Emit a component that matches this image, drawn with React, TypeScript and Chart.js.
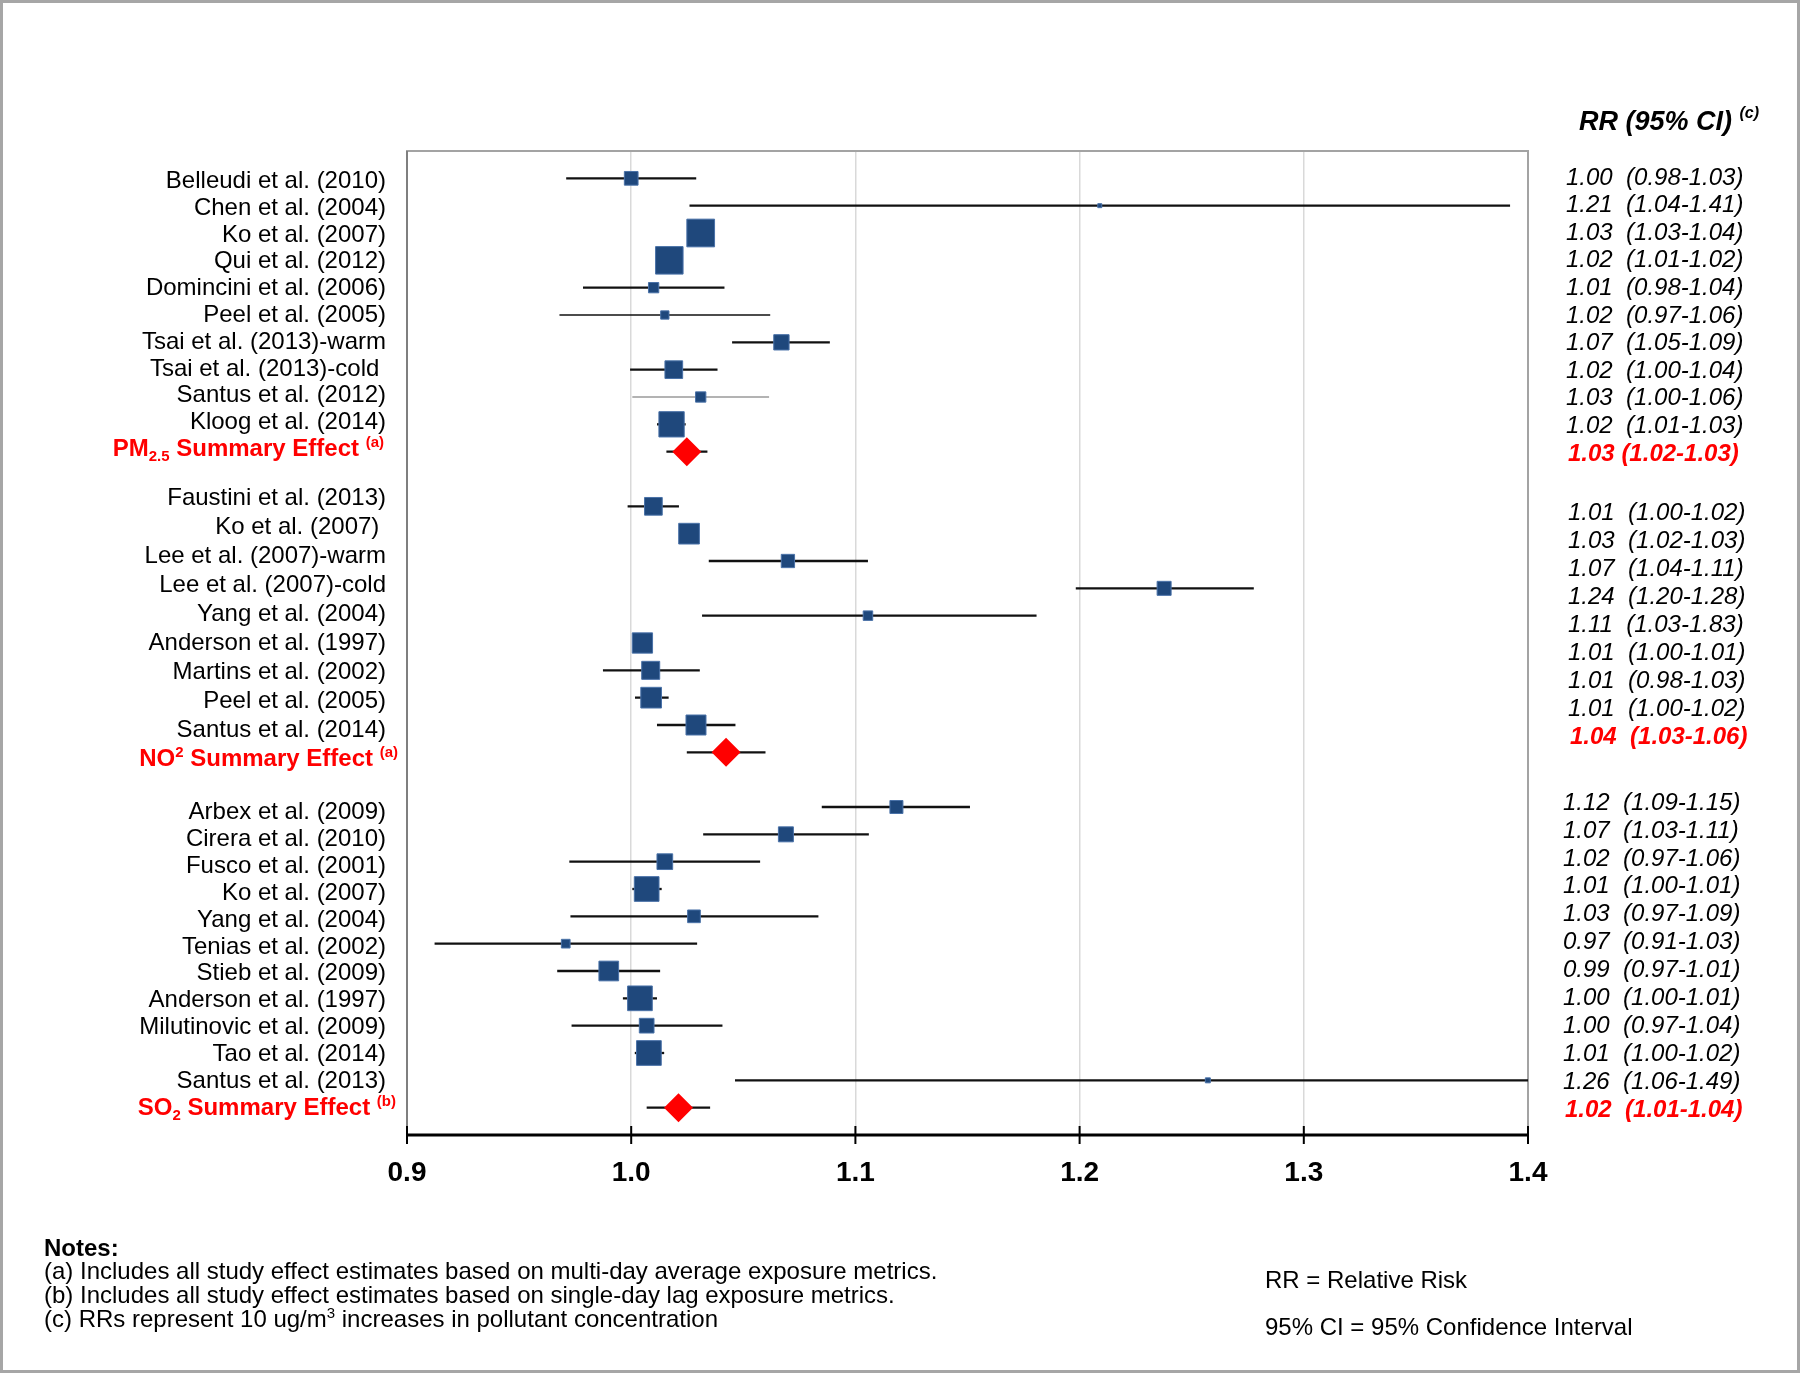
import { useEffect, useRef } from "react";
import { Chart, registerables } from "chart.js";

Chart.register(...registerables);

const FONT = '"Liberation Sans", Arial, Helvetica, sans-serif';

// ---------------- DATA ----------------
const pmStudies = [
  "Belleudi et al. (2010)",
  "Chen et al. (2004)",
  "Ko et al. (2007)",
  "Qui et al. (2012)",
  "Domincini et al. (2006)",
  "Peel et al. (2005)",
  "Tsai et al. (2013)-warm",
  "Tsai et al. (2013)-cold ",
  "Santus et al. (2012)",
  "Kloog et al. (2014)",
];
const pmEst = [1.0, 1.209, 1.031, 1.017, 1.01, 1.015, 1.067, 1.019, 1.031, 1.018];
const pmLo = [0.971, 1.026, 1.028, 1.014, 0.9785, 0.968, 1.045, 0.9995, 1.0005, 1.0115];
const pmHi = [1.029, 1.392, 1.034, 1.02, 1.0416, 1.062, 1.0886, 1.0385, 1.0615, 1.0243];
const pmWeight = [14.7, 5, 28.7, 28.5, 11.3, 9.3, 16.3, 18.7, 11.3, 26.3];
const pmRR = [
  "1.00  (0.98-1.03)",
  "1.21  (1.04-1.41)",
  "1.03  (1.03-1.04)",
  "1.02  (1.01-1.02)",
  "1.01  (0.98-1.04)",
  "1.02  (0.97-1.06)",
  "1.07  (1.05-1.09)",
  "1.02  (1.00-1.04)",
  "1.03  (1.00-1.06)",
  "1.02  (1.01-1.03)",
];

const no2Studies = [
  "Faustini et al. (2013)",
  "Ko et al. (2007) ",
  "Lee et al. (2007)-warm",
  "Lee et al. (2007)-cold",
  "Yang et al. (2004)",
  "Anderson et al. (1997)",
  "Martins et al. (2002)",
  "Peel et al. (2005)",
  "Santus et al. (2014)",
];
const no2Est = [1.0099, 1.0258, 1.0699, 1.2377, 1.1056, 1.005, 1.0087, 1.0089, 1.0289];
const no2Lo = [0.9984, 1.023, 1.0346, 1.1983, 1.0316, 1.002, 0.9874, 1.0017, 1.0115];
const no2Hi = [1.0213, 1.029, 1.1056, 1.2777, 1.1808, 1.008, 1.0306, 1.0167, 1.0465];
const no2Weight = [18.7, 21.7, 14.3, 15, 10.5, 21.3, 19, 21.7, 21];
const no2RR = [
  "1.01  (1.00-1.02)",
  "1.03  (1.02-1.03)",
  "1.07  (1.04-1.11)",
  "1.24  (1.20-1.28)",
  "1.11  (1.03-1.83)",
  "1.01  (1.00-1.01)",
  "1.01  (0.98-1.03)",
  "1.01  (1.00-1.02)",
];

const so2Studies = [
  "Arbex et al. (2009)",
  "Cirera et al. (2010)",
  "Fusco et al. (2001)",
  "Ko et al. (2007)",
  "Yang et al. (2004)",
  "Tenias et al. (2002)",
  "Stieb et al. (2009)",
  "Anderson et al. (1997)",
  "Milutinovic et al. (2009)",
  "Tao et al. (2014)",
  "Santus et al. (2013)",
];
const so2Est = [1.1183, 1.069, 1.015, 1.0069, 1.028, 0.9708, 0.99, 1.0039, 1.0069, 1.0079, 1.2572];
const so2Lo = [1.085, 1.0321, 0.9724, 1.0005, 0.9729, 0.9123, 0.967, 0.9963, 0.9734, 1.0016, 1.0463];
const so2Hi = [1.1511, 1.106, 1.0575, 1.0136, 1.0835, 1.0294, 1.0129, 1.0115, 1.0407, 1.0147, 1.49];
const so2Weight = [14, 16, 16.7, 25.7, 13.7, 9.7, 20.7, 25.7, 15.7, 25.7, 6];
const so2RR = [
  "1.12  (1.09-1.15)",
  "1.07  (1.03-1.11)",
  "1.02  (0.97-1.06)",
  "1.01  (1.00-1.01)",
  "1.03  (0.97-1.09)",
  "0.97  (0.91-1.03)",
  "0.99  (0.97-1.01)",
  "1.00  (1.00-1.01)",
  "1.00  (0.97-1.04)",
  "1.01  (1.00-1.02)",
  "1.26  (1.06-1.49)",
];

const summaryEst = [1.0248, 1.0423, 1.0211];
const summaryLo = [1.0157, 1.0248, 1.0069];
const summaryHi = [1.034, 1.0599, 1.0352];
const summaryRR = ["1.03 (1.02-1.03)", "1.04  (1.03-1.06)", "1.02  (1.01-1.04)"];
const summaryBase = ["PM", "NO", "SO"];
const summaryIndex = ["2.5", "2", "2"];
const summaryNote = ["(a)", "(a)", "(b)"];

const xTicks = [0.9, 1.0, 1.1, 1.2, 1.3, 1.4];

// ---------------- LAYOUT (not data) ----------------
const groupStart = [0, 12, 23];
const leftStart = [0.1, 11.7, 23.18];
const leftStep = [0.98, 1.06, 0.985];
const rrStart = [-0.08, 12.19, 22.78];
const rrStep = [1.009, 1.025, 1.023];
const rrX = [1566, 1568, 1563];
const summaryRight = [384, 398, 396];
const summaryIsSup = [false, true, false];
const LABEL_RIGHT = 386;

type Piece = { t: string; size: number; dy?: number; style?: string };

function drawRich(
  ctx: CanvasRenderingContext2D,
  pieces: Piece[],
  x: number,
  baseline: number,
  align: "left" | "right",
  color: string,
  baseStyle: string
) {
  ctx.save();
  ctx.fillStyle = color;
  ctx.textAlign = "left";
  ctx.textBaseline = "alphabetic";
  const widths = pieces.map((p) => {
    ctx.font = `${p.style ?? baseStyle} ${p.size}px ${FONT}`;
    return ctx.measureText(p.t).width;
  });
  const total = widths.reduce((a, b) => a + b, 0);
  let cx = align === "left" ? x : x - total;
  pieces.forEach((p, i) => {
    ctx.font = `${p.style ?? baseStyle} ${p.size}px ${FONT}`;
    ctx.fillText(p.t, cx, baseline + (p.dy ?? 0));
    cx += widths[i];
  });
  ctx.restore();
}

export default function App() {
  const ref = useRef<HTMLCanvasElement>(null);

  useEffect(() => {
    const canvas = ref.current;
    if (!canvas) return;

    const groups = [
      { studies: pmStudies, est: pmEst, lo: pmLo, hi: pmHi, w: pmWeight, rr: pmRR },
      { studies: no2Studies, est: no2Est, lo: no2Lo, hi: no2Hi, w: no2Weight, rr: no2RR },
      { studies: so2Studies, est: so2Est, lo: so2Lo, hi: so2Hi, w: so2Weight, rr: so2RR },
    ];

    const ciDatasets: any[] = [];
    const squarePts: { x: number; y: number }[] = [];
    const squareR: number[] = [];
    const diamondPts: { x: number; y: number }[] = [];

    groups.forEach((g, gi) => {
      g.est.forEach((e, i) => {
        const slot = groupStart[gi] + i;
        const isThinGray = gi === 0 && i === 8;
        const isThin = gi === 0 && i === 5;
        ciDatasets.push({
          type: "line",
          data: [
            { x: g.lo[i], y: slot },
            { x: g.hi[i], y: slot },
          ],
          borderColor: isThinGray ? "#9a9a9a" : "#111111",
          borderWidth: isThinGray ? 1.6 : isThin ? 1.6 : 2.3,
          pointRadius: 0,
          order: 3,
        });
        squarePts.push({ x: e, y: slot });
        squareR.push((g.w[i] - 1) / Math.SQRT2);
      });
      const sSlot = groupStart[gi] + g.est.length;
      ciDatasets.push({
        type: "line",
        data: [
          { x: summaryLo[gi], y: sSlot },
          { x: summaryHi[gi], y: sSlot },
        ],
        borderColor: "#111111",
        borderWidth: 2.3,
        pointRadius: 0,
        order: 3,
      });
      diamondPts.push({ x: summaryEst[gi], y: sSlot });
    });

    const decor = {
      id: "forestDecor",
      beforeDatasetsDraw(chart: any) {
        const ctx: CanvasRenderingContext2D = chart.ctx;
        const a = chart.chartArea;
        const xs = chart.scales.x;
        ctx.save();
        // plot frame
        ctx.strokeStyle = "#a3a3a3";
        ctx.lineWidth = 2;
        ctx.beginPath();
        ctx.moveTo(a.left, a.bottom);
        ctx.lineTo(a.left, a.top);
        ctx.lineTo(a.right, a.top);
        ctx.lineTo(a.right, a.bottom);
        ctx.stroke();
        ctx.strokeStyle = "#7f7f7f";
        ctx.beginPath();
        ctx.moveTo(a.left, a.bottom);
        ctx.lineTo(a.left, a.top);
        ctx.stroke();
        // x axis
        ctx.strokeStyle = "#000";
        ctx.lineWidth = 3;
        ctx.beginPath();
        ctx.moveTo(a.left, a.bottom);
        ctx.lineTo(a.right, a.bottom);
        ctx.stroke();
        ctx.lineWidth = 2;
        xTicks.forEach((v) => {
          const px = xs.getPixelForValue(v);
          ctx.beginPath();
          ctx.moveTo(px, a.bottom - 9);
          ctx.lineTo(px, a.bottom + 9);
          ctx.stroke();
        });
        ctx.restore();
      },
      afterDraw(chart: any) {
        const ctx: CanvasRenderingContext2D = chart.ctx;
        const a = chart.chartArea;
        const xs = chart.scales.x;
        const ys = chart.scales.y;
        ctx.save();
        // tick labels
        ctx.fillStyle = "#000";
        ctx.font = `bold 28px ${FONT}`;
        ctx.textAlign = "center";
        ctx.textBaseline = "alphabetic";
        xTicks.forEach((v) => {
          ctx.fillText(v.toFixed(1), xs.getPixelForValue(v), a.bottom + 46);
        });

        groups.forEach((g, gi) => {
          // study labels
          ctx.font = `24px ${FONT}`;
          ctx.fillStyle = "#000";
          ctx.textAlign = "right";
          g.studies.forEach((s, i) => {
            const yy = ys.getPixelForValue(leftStart[gi] + i * leftStep[gi]);
            ctx.fillText(s, LABEL_RIGHT, yy + 7);
          });
          // summary label
          const n = g.studies.length;
          const sy = ys.getPixelForValue(leftStart[gi] + n * leftStep[gi]) + 7;
          drawRich(
            ctx,
            [
              { t: summaryBase[gi], size: 24 },
              { t: summaryIndex[gi], size: 15, dy: summaryIsSup[gi] ? -9 : 5 },
              { t: " Summary Effect ", size: 24 },
              { t: summaryNote[gi], size: 15, dy: -9 },
            ],
            summaryRight[gi],
            sy,
            "right",
            "#ff0000",
            "bold"
          );
          // RR column
          ctx.textAlign = "left";
          ctx.fillStyle = "#000";
          ctx.font = `italic 24px ${FONT}`;
          g.rr.forEach((t, i) => {
            const yy = ys.getPixelForValue(rrStart[gi] + i * rrStep[gi]);
            ctx.fillText(t, rrX[gi], yy + 8.6);
          });
          ctx.fillStyle = "#ff0000";
          ctx.font = `italic bold 24px ${FONT}`;
          const ry = ys.getPixelForValue(rrStart[gi] + g.rr.length * rrStep[gi]);
          ctx.fillText(summaryRR[gi], rrX[gi] + 2, ry + 8.6);
        });

        // header
        drawRich(
          ctx,
          [
            { t: "RR (95% CI) ", size: 27 },
            { t: "(c)", size: 16, dy: -12 },
          ],
          1579,
          130,
          "left",
          "#000",
          "italic bold"
        );

        // notes
        drawRich(ctx, [{ t: "Notes:", size: 24 }], 44, 1256, "left", "#000", "bold");
        drawRich(
          ctx,
          [{ t: "(a) Includes all study effect estimates based on multi-day average exposure metrics.", size: 24 }],
          44,
          1279,
          "left",
          "#000",
          "normal"
        );
        drawRich(
          ctx,
          [{ t: "(b) Includes all study effect estimates based on single-day lag exposure metrics.", size: 24 }],
          44,
          1303,
          "left",
          "#000",
          "normal"
        );
        drawRich(
          ctx,
          [
            { t: "(c) RRs represent 10 ug/m", size: 24 },
            { t: "3", size: 15, dy: -9 },
            { t: " increases in pollutant concentration", size: 24 },
          ],
          44,
          1327,
          "left",
          "#000",
          "normal"
        );
        drawRich(ctx, [{ t: "RR = Relative Risk", size: 24 }], 1265, 1288, "left", "#000", "normal");
        drawRich(
          ctx,
          [{ t: "95% CI = 95% Confidence Interval", size: 24 }],
          1265,
          1335,
          "left",
          "#000",
          "normal"
        );

        // outer frame
        ctx.strokeStyle = "#a6a6a6";
        ctx.lineWidth = 3;
        ctx.strokeRect(1.5, 1.5, 1797, 1370);
        ctx.restore();
      },
    };

    const chart = new Chart(canvas, {
      type: "scatter",
      data: {
        datasets: [
          {
            type: "scatter",
            data: diamondPts,
            pointStyle: "rectRot",
            pointRadius: 14.5,
            backgroundColor: "#ff0000",
            borderColor: "#ff0000",
            borderWidth: 0,
            order: 0,
          } as any,
          {
            type: "scatter",
            data: squarePts,
            pointStyle: "rect",
            pointRadius: squareR,
            backgroundColor: "#1f487c",
            borderColor: "#4a72a8",
            borderWidth: 1,
            order: 1,
          } as any,
          ...ciDatasets,
        ],
      },
      options: {
        responsive: false,
        animation: false,
        devicePixelRatio: 1,
        events: [],
        layout: { padding: { left: 407, right: 272, top: 151, bottom: 238 } },
        plugins: { legend: { display: false }, tooltip: { enabled: false } },
        scales: {
          x: {
            type: "linear",
            min: 0.9,
            max: 1.4,
            ticks: { display: false, stepSize: 0.1 },
            grid: {
              drawTicks: false,
              lineWidth: 1.5,
              color: (c: any) => {
                const v = c.tick ? c.tick.value : 0;
                return Math.abs(v - 0.9) < 1e-6 || Math.abs(v - 1.4) < 1e-6 ? "rgba(0,0,0,0)" : "#d9d9d9";
              },
            },
            border: { display: false },
          },
          y: {
            type: "linear",
            min: -1,
            max: 35,
            reverse: true,
            display: false,
          },
        },
      },
      plugins: [decor],
    } as any);

    return () => chart.destroy();
  }, []);

  return (
    <div style={{ position: "absolute", left: 0, top: 0, width: 1800, height: 1373, background: "#fff" }}>
      <canvas ref={ref} width={1800} height={1373} style={{ display: "block", width: 1800, height: 1373 }} />
    </div>
  );
}
